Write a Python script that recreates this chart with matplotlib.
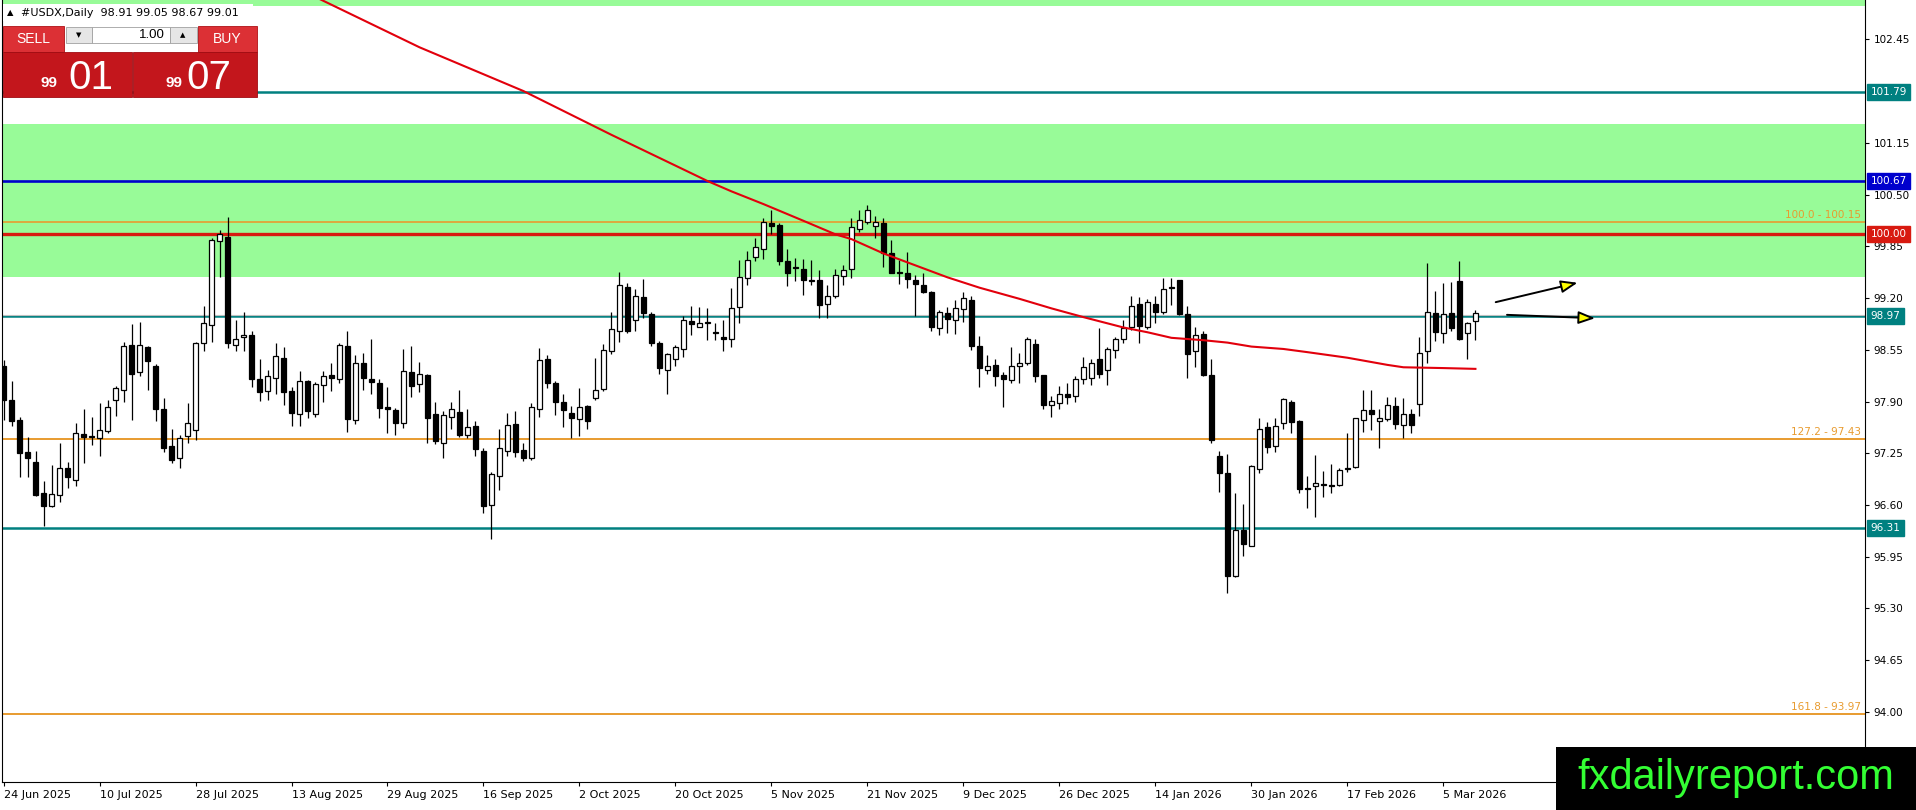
import numpy as np
import matplotlib
matplotlib.use('Agg')
import matplotlib.pyplot as plt
import matplotlib.transforms as mtransforms
from matplotlib.patches import Rectangle

# daily candles, #USDX, 24 Jun 2025 .. 11 Mar 2026
opens = [98.34, 97.92, 97.67, 97.27, 97.14, 96.75, 96.59, 96.73, 97.06, 96.91,
         97.49, 97.47, 97.44, 97.53, 97.92, 98.05, 98.61, 98.27, 98.58, 98.35,
         97.81, 97.34, 97.19, 97.47, 97.54, 98.63, 98.86, 99.92, 99.97, 98.61,
         98.71, 98.74, 98.18, 98.03, 98.19, 98.45, 98.03, 97.74, 98.16, 97.74,
         98.11, 98.23, 98.18, 98.60, 97.67, 98.38, 98.18, 98.13, 97.83, 97.79,
         97.63, 98.27, 98.12, 98.23, 97.74, 97.38, 97.71, 97.77, 97.48, 97.59,
         97.28, 96.60, 96.96, 97.28, 97.62, 97.29, 97.19, 97.80, 98.43, 98.13,
         97.90, 97.75, 97.68, 97.84, 97.94, 98.06, 98.53, 98.79, 99.34, 98.92,
         99.21, 99.00, 98.64, 98.30, 98.44, 98.56, 98.91, 98.84, 98.90, 98.77,
         98.71, 98.69, 99.09, 99.45, 99.72, 99.82, 100.14, 100.12, 99.67, 99.59,
         99.57, 99.43, 99.43, 99.13, 99.23, 99.48, 99.56, 100.07, 100.16, 100.10,
         100.14, 99.76, 99.53, 99.51, 99.43, 99.36, 99.28, 98.82, 99.01, 98.93,
         99.06, 99.18, 98.60, 98.30, 98.36, 98.23, 98.17, 98.34, 98.38, 98.62,
         98.23, 97.86, 97.88, 97.99, 97.97, 98.18, 98.19, 98.44, 98.29, 98.55,
         98.68, 98.83, 99.13, 98.84, 99.13, 99.02, 99.34, 99.43, 99.00, 98.54,
         98.75, 98.23, 97.22, 97.00, 95.71, 96.29, 96.09, 97.05, 97.58, 97.34,
         97.63, 97.89, 97.66, 96.81, 96.84, 96.86, 96.85, 96.85, 97.05, 97.08,
         97.67, 97.79, 97.66, 97.68, 97.84, 97.60, 97.74, 97.87, 98.53, 99.01,
         98.76, 99.01, 99.41, 98.76, 98.91]
highs = [98.42, 98.16, 97.70, 97.46, 97.28, 96.90, 97.10, 97.38, 97.14, 97.63,
         97.80, 97.70, 97.88, 97.92, 98.09, 98.65, 98.87, 98.90, 98.60, 98.37,
         97.94, 97.56, 97.48, 97.88, 98.65, 99.10, 99.95, 100.06, 100.22, 98.93,
         99.02, 98.79, 98.43, 98.30, 98.63, 98.58, 98.08, 98.28, 98.17, 98.15,
         98.28, 98.39, 98.64, 98.79, 98.49, 98.51, 98.68, 98.18, 98.08, 97.82,
         98.56, 98.60, 98.40, 98.25, 97.89, 97.78, 97.89, 98.05, 97.81, 97.65,
         97.32, 97.02, 97.55, 97.76, 97.78, 97.38, 97.88, 98.57, 98.48, 98.16,
         98.00, 97.84, 98.07, 97.86, 98.45, 98.62, 99.02, 99.53, 99.39, 99.31,
         99.44, 99.03, 98.66, 98.51, 98.61, 98.97, 99.10, 99.09, 99.07, 98.89,
         98.92, 99.32, 99.68, 99.79, 99.95, 100.21, 100.31, 100.14, 99.82, 99.70,
         99.69, 99.68, 99.55, 99.36, 99.56, 99.61, 100.20, 100.30, 100.37, 100.23,
         100.21, 99.93, 99.68, 99.78, 99.49, 99.52, 99.29, 99.05, 99.09, 99.18,
         99.27, 99.23, 98.72, 98.48, 98.43, 98.27, 98.59, 98.51, 98.71, 98.69,
         98.23, 97.97, 98.09, 98.13, 98.22, 98.46, 98.44, 98.82, 98.58, 98.71,
         98.92, 99.23, 99.21, 99.19, 99.22, 99.45, 99.45, 99.43, 99.10, 98.84,
         98.79, 98.43, 97.28, 97.24, 96.75, 96.61, 97.10, 97.69, 97.64, 97.69,
         97.95, 97.92, 97.67, 96.96, 97.23, 97.03, 97.12, 97.07, 97.51, 97.69,
         98.04, 98.04, 97.80, 97.96, 97.96, 97.95, 97.80, 98.71, 99.64, 99.29,
         99.39, 99.40, 99.67, 98.90, 99.05]
lows = [97.67, 97.59, 96.95, 96.95, 96.71, 96.33, 96.57, 96.64, 96.81, 96.84,
        97.13, 97.35, 97.22, 97.50, 97.72, 97.89, 97.67, 98.22, 98.05, 97.66,
        97.26, 97.13, 97.06, 97.38, 97.42, 98.53, 98.65, 99.47, 98.57, 98.54,
        98.54, 98.08, 97.91, 97.92, 97.99, 97.86, 97.59, 97.59, 97.69, 97.70,
        97.89, 98.03, 98.13, 97.52, 97.62, 98.04, 98.00, 97.69, 97.50, 97.48,
        97.57, 97.96, 98.02, 97.38, 97.37, 97.19, 97.55, 97.45, 97.44, 97.22,
        96.50, 96.17, 96.79, 97.22, 97.20, 97.15, 97.16, 97.71, 98.07, 97.73,
        97.58, 97.44, 97.47, 97.55, 97.92, 98.03, 98.50, 98.65, 98.76, 98.78,
        98.95, 98.60, 98.25, 97.99, 98.34, 98.46, 98.74, 98.83, 98.67, 98.67,
        98.53, 98.58, 98.88, 99.36, 99.67, 99.69, 100.01, 99.61, 99.35, 99.41,
        99.24, 99.36, 98.95, 98.95, 99.20, 99.36, 99.45, 100.03, 100.13, 99.96,
        99.59, 99.51, 99.38, 99.33, 98.97, 99.26, 98.78, 98.74, 98.76, 98.75,
        98.90, 98.55, 98.08, 98.25, 98.09, 97.83, 98.13, 98.13, 98.36, 98.15,
        97.80, 97.70, 97.81, 97.87, 97.89, 98.12, 98.11, 98.20, 98.11, 98.45,
        98.63, 98.80, 98.63, 98.81, 98.88, 99.00, 99.11, 98.99, 98.20, 98.33,
        98.22, 97.38, 96.76, 95.50, 95.70, 95.96, 96.09, 97.00, 97.25, 97.26,
        97.56, 97.51, 96.75, 96.56, 96.45, 96.70, 96.75, 96.84, 97.02, 97.06,
        97.52, 97.54, 97.31, 97.66, 97.56, 97.44, 97.51, 97.72, 98.39, 98.66,
        98.63, 98.79, 98.67, 98.44, 98.67]
closes = [97.92, 97.65, 97.25, 97.19, 96.73, 96.59, 96.74, 97.07, 96.95, 97.50,
          97.45, 97.45, 97.54, 97.83, 98.07, 98.60, 98.25, 98.61, 98.41, 97.80,
          97.31, 97.17, 97.44, 97.63, 98.63, 98.88, 99.93, 100.01, 98.64, 98.69,
          98.73, 98.18, 98.02, 98.22, 98.47, 98.02, 97.75, 98.16, 97.78, 98.12,
          98.22, 98.19, 98.61, 97.68, 98.39, 98.19, 98.14, 97.82, 97.80, 97.63,
          98.28, 98.10, 98.24, 97.69, 97.40, 97.73, 97.80, 97.48, 97.58, 97.30,
          96.59, 96.99, 97.31, 97.60, 97.26, 97.19, 97.83, 98.42, 98.13, 97.89,
          97.79, 97.69, 97.83, 97.66, 98.05, 98.55, 98.81, 99.36, 98.79, 99.22,
          99.01, 98.63, 98.32, 98.50, 98.58, 98.93, 98.87, 98.89, 98.88, 98.76,
          98.69, 99.08, 99.47, 99.68, 99.84, 100.16, 100.11, 99.67, 99.52, 99.58,
          99.43, 99.42, 99.11, 99.22, 99.49, 99.55, 100.09, 100.18, 100.31, 100.15,
          99.77, 99.52, 99.52, 99.44, 99.37, 99.28, 98.83, 99.02, 98.94, 99.07,
          99.20, 98.60, 98.32, 98.34, 98.22, 98.18, 98.35, 98.39, 98.68, 98.22,
          97.85, 97.91, 98.00, 97.96, 98.18, 98.33, 98.38, 98.24, 98.56, 98.69,
          98.82, 99.10, 98.85, 99.15, 99.03, 99.31, 99.32, 99.00, 98.50, 98.73,
          98.23, 97.42, 97.00, 95.71, 96.29, 96.11, 97.09, 97.56, 97.33, 97.59,
          97.93, 97.64, 96.80, 96.80, 96.87, 96.85, 96.84, 97.04, 97.07, 97.69,
          97.79, 97.74, 97.69, 97.86, 97.62, 97.74, 97.60, 98.51, 99.02, 98.77,
          99.00, 98.82, 98.68, 98.88, 99.01]

date_labels = ['24 Jun 2025', '10 Jul 2025', '28 Jul 2025', '13 Aug 2025',
               '29 Aug 2025', '16 Sep 2025', '2 Oct 2025', '20 Oct 2025',
               '5 Nov 2025', '21 Nov 2025', '9 Dec 2025', '26 Dec 2025',
               '14 Jan 2026', '30 Jan 2026', '17 Feb 2026', '5 Mar 2026']
bars_per_label = 12

# moving average (red curve), sampled at some bars
ma_bars = [38, 52, 65, 76, 88, 91, 95, 100, 104, 106, 110, 114, 118, 122, 127,
           131, 135, 140, 143, 146, 150, 153, 156, 160, 163, 168, 173, 175, 180, 184]
ma_values = [103.03, 102.35, 101.80, 101.25, 100.67, 100.54, 100.38, 100.17,
             100.00, 99.94, 99.76, 99.61, 99.46, 99.33, 99.19, 99.07, 98.96,
             98.83, 98.77, 98.70, 98.67, 98.64, 98.59, 98.56, 98.52, 98.45,
             98.36, 98.33, 98.32, 98.31]

# zones and levels
zone = (99.47, 101.38)
top_zone_low = 102.87
level_values = [101.79, 100.67, 100.15, 100.00, 98.97, 97.43, 96.31, 93.97]
fibo_texts = {100.15: '100.0 - 100.15', 97.43: '127.2 - 97.43', 93.97: '161.8 - 93.97'}
boxed_levels = [101.79, 100.67, 100.00, 98.97, 96.31]
price_ticks = [94.00, 94.65, 95.30, 95.95, 96.60, 97.25, 97.90, 98.55,
               99.20, 99.85, 100.50, 101.15, 102.45]
bid = 98.99

header = '#USDX,Daily  98.91 99.05 98.67 99.01'
sell_price = ('99', '01')
buy_price = ('99', '07')

TEAL = '#008080'
BLUE = '#0000CD'
RED = '#D81A10'
ORANGE = '#E89B2F'
GREEN = '#98FB98'
level_style = {101.79: (TEAL, 1.8), 100.67: (BLUE, 1.9), 100.15: (ORANGE, 1.2),
               100.00: (RED, 2.4), 98.97: (TEAL, 1.8), 97.43: (ORANGE, 1.4),
               96.31: (TEAL, 1.8), 93.97: (ORANGE, 1.4)}

plt.rcParams['font.family'] = ['DejaVu Sans']

W, H = 1916, 810
fig = plt.figure(figsize=(W / 100, H / 100), dpi=100)
fig.patch.set_facecolor('white')

# chart area in pixels: x 2..1865, y 0..782
ax = fig.add_axes([2 / W, 28 / H, 1863 / W, 782 / H])
ax.set_xlim(-0.19, 232.7)
ax.set_ylim(93.12, 102.944)

ax.axhspan(zone[0], zone[1], color=GREEN, lw=0, zorder=0)
ax.axhspan(top_zone_low, 104, color=GREEN, lw=0, zorder=0)

for lv in level_values:
    col, lw = level_style[lv]
    ax.axhline(lv, color=col, lw=lw, zorder=1)
ax.axhline(bid, color='#C0C0C0', lw=0.8, zorder=1)

blend = mtransforms.blended_transform_factory(ax.transAxes, ax.transData)
for lv, txt in fibo_texts.items():
    ax.text(0.998, lv + 0.03, txt, transform=blend, ha='right', va='bottom',
            color=ORANGE, fontsize=7.5, zorder=2)

# candles
x = np.arange(len(opens))
o = np.array(opens)
h = np.array(highs)
l = np.array(lows)
c = np.array(closes)
up = c >= o
ax.vlines(x, l, h, color='black', lw=0.9, zorder=3)
body = c - o
body = np.where(np.abs(body) < 0.012, np.where(up, 0.012, -0.012), body)
ax.bar(x, body, bottom=o, width=0.55, color=np.where(up, 'white', 'black'),
       edgecolor='black', linewidth=0.9, zorder=4)

# moving average
ax.plot(ma_bars, ma_values, color='#E2000C', lw=1.5, zorder=5)

# arrows
ax.annotate('', xy=(197.1, 99.40), xytext=(186.2, 99.14),
            arrowprops=dict(arrowstyle='-|>,head_length=1.0,head_width=0.38',
                            fc='yellow', ec='black', lw=1.4), zorder=6)
ax.annotate('', xy=(199.3, 98.945), xytext=(187.6, 98.99),
            arrowprops=dict(arrowstyle='-|>,head_length=1.0,head_width=0.38',
                            fc='yellow', ec='black', lw=1.4), zorder=6)

# axes styling
ax.spines['top'].set_visible(False)
for side in ['left', 'right', 'bottom']:
    ax.spines[side].set_color('black')
    ax.spines[side].set_linewidth(0.8)

ax.yaxis.tick_right()
ax.set_yticks(price_ticks)
ax.set_yticklabels(['%.2f' % t for t in price_ticks])
ax.tick_params(axis='y', labelsize=7.5, length=3, pad=3, width=0.8)

tick_pos = [i * bars_per_label for i in range(len(date_labels))]
ax.set_xticks(tick_pos)
ax.set_xticklabels(date_labels, ha='left', fontsize=8)
ax.tick_params(axis='x', length=3, pad=3, width=0.8)

box_colors = {101.79: TEAL, 100.67: BLUE, 100.00: RED, 98.97: TEAL, 96.31: TEAL}
for lv in boxed_levels:
    ax.text(1.003, lv, '%.2f' % lv, transform=blend, ha='left', va='center',
            color='white', fontsize=7.5, clip_on=False, zorder=10,
            bbox=dict(boxstyle='square,pad=0.3', fc=box_colors[lv], ec=box_colors[lv]))

# overlay in pixel coordinates for the trade panel, header and logo
ov = fig.add_axes([0, 0, 1, 1], zorder=20)
ov.set_xlim(0, W)
ov.set_ylim(H, 0)
ov.axis('off')
ov.patch.set_alpha(0)

ov.add_patch(Rectangle((3, 4), 250, 17, fc='white', ec='none'))
ov.text(7, 13, '\u25b2', fontsize=6, va='center', ha='left')
ov.text(21, 13, header, fontsize=8, va='center', ha='left')

panel_red = '#DC3035'
panel_dark = '#C3161C'
ov.add_patch(Rectangle((3, 26), 61, 26, fc=panel_red, ec='#B01015', lw=0.6))
ov.text(33, 39, 'SELL', color='white', fontsize=10, ha='center', va='center',
        family='Liberation Sans')
ov.add_patch(Rectangle((66, 27), 26, 16, fc='#E6E6E6', ec='#A0A0A0', lw=0.6))
ov.text(79, 35, '\u25bc', fontsize=5, ha='center', va='center')
ov.add_patch(Rectangle((92, 27), 78, 16, fc='white', ec='#A0A0A0', lw=0.6))
ov.text(165, 35, '1.00', fontsize=9.5, ha='right', va='center', family='Liberation Sans')
ov.add_patch(Rectangle((170, 27), 27, 16, fc='#E6E6E6', ec='#A0A0A0', lw=0.6))
ov.text(183, 35, '\u25b2', fontsize=5, ha='center', va='center')
ov.add_patch(Rectangle((198, 26), 59, 26, fc=panel_red, ec='#B01015', lw=0.6))
ov.text(227, 39, 'BUY', color='white', fontsize=10, ha='center', va='center',
        family='Liberation Sans')

ov.add_patch(Rectangle((3, 52), 129, 45, fc=panel_dark, ec='#A00C12', lw=0.6))
ov.add_patch(Rectangle((133, 52), 124, 45, fc=panel_dark, ec='#A00C12', lw=0.6))
ov.text(58, 87, sell_price[0], color='white', fontsize=11, fontweight='bold',
        ha='right', va='baseline', family='Liberation Sans')
ov.text(68, 89, sell_price[1], color='white', fontsize=29, ha='left',
        va='baseline', family='Liberation Sans')
ov.text(183, 87, buy_price[0], color='white', fontsize=11, fontweight='bold',
        ha='right', va='baseline', family='Liberation Sans')
ov.text(186, 89, buy_price[1], color='white', fontsize=29, ha='left',
        va='baseline', family='Liberation Sans')

ov.add_patch(Rectangle((1556, 747), 360, 63, fc='black', ec='none'))
ov.text(1736, 778, 'fxdailyreport.com', color='#33FF33', fontsize=30,
        ha='center', va='center', family='Liberation Sans')

fig.savefig('out.png', dpi=100, facecolor='white')
